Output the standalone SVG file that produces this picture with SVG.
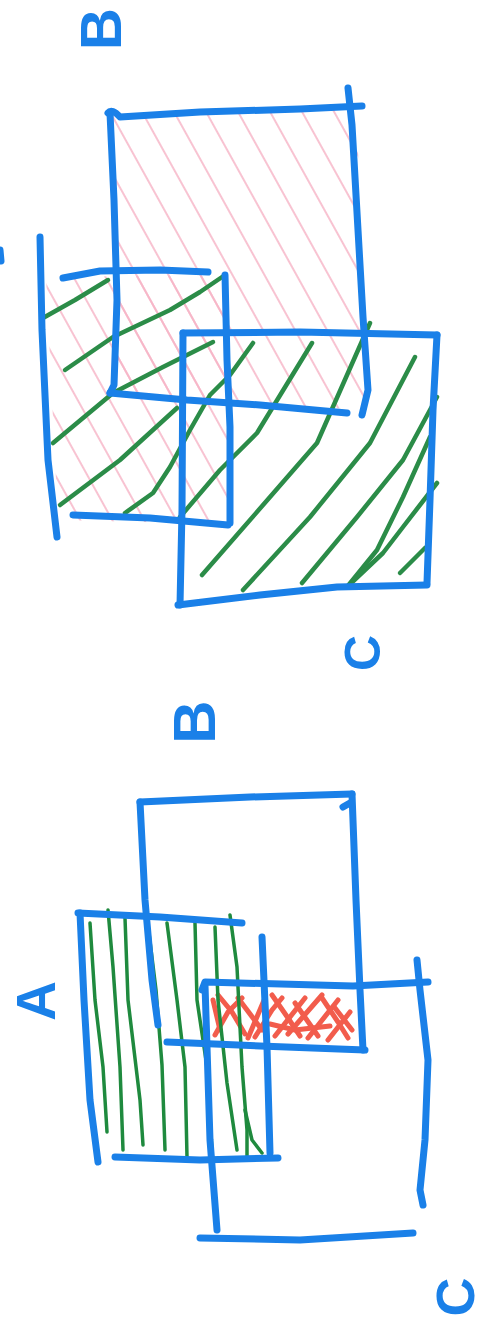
<svg xmlns="http://www.w3.org/2000/svg" width="483" height="1322" viewBox="0 0 483 1322">
<style>
.blue{fill:none;stroke:#1a80e8;stroke-width:7;stroke-linecap:round;stroke-linejoin:round}
.green{fill:none;stroke:#2b8c48;stroke-width:4.5;stroke-linecap:round;stroke-linejoin:round}
.green2{fill:none;stroke:#1f8a3e;stroke-width:3.5;stroke-linecap:round;stroke-linejoin:round}
.red{fill:none;stroke:#f25c4c;stroke-width:5;stroke-linecap:round;stroke-linejoin:round}
.lbl{font-family:"Liberation Sans",Arial,sans-serif;font-weight:bold;fill:#1a80e8;text-anchor:middle;dominant-baseline:central}
</style>
<defs>
<pattern id="pink" patternUnits="userSpaceOnUse" width="28" height="10" patternTransform="rotate(-29)">
<line x1="14" y1="0" x2="14" y2="10" stroke="#f7b4c6" stroke-width="1.6"/>
</pattern>
</defs>
<rect width="483" height="1322" fill="#ffffff"/>

<g id="top-diagram">
<g id="top-pink-hatch">
<path d="M46,277 L226,275 L229,524 L58,520 Z" fill="url(#pink)"/>
<path d="M113,116 L357,109 L365,410 L113,395 Z" fill="url(#pink)"/>
</g>
<g id="top-green-hatch">
<path class="green" d="M43,318 L75,300 L108,280"/>
<path class="green" d="M65,370 L113,337 L170,310 L200,292 L225,275"/>
<path class="green" d="M53,443 L113,393 L163,367 L213,342"/>
<path class="green" d="M60,505 L120,460 L177,408"/>
<path class="green" d="M125,513 L153,493 L170,467 L190,430 L210,395 L230,375 L253,343"/>
<path class="green" d="M180,517 L220,470 L257,433 L312,343"/>
<path class="green" d="M202,575 L270,497 L317,443 L370,323"/>
<path class="green" d="M243,590 L310,517 L370,443 L415,357"/>
<path class="green" d="M302,583 L357,517 L403,460 L437,397"/>
<path class="green" d="M347,587 L377,550 L403,497 L430,437"/>
<path class="green" d="M347,587 L383,553 L403,527 L437,483"/>
<path class="green" d="M400,573 L425,548"/>
</g>
<g id="top-rect-B">
<path class="blue" d="M108,113 Q112,108 120,117 L200,112 L300,109 L362,106"/>
<path class="blue" d="M348,88 L352,125 L358,230 L363,317 L368,390 L362,415"/>
<path class="blue" d="M110,113 L114,200 L117,300 L114,385 L110,393"/>
<path class="blue" d="M110,393 L187,400 L260,405 L347,413"/>
</g>
<g id="top-rect-A">
<path class="blue" d="M40,237 L42,330 L48,460 L57,537"/>
<path class="blue" d="M63,278 L100,271 L160,270 L208,272"/>
<path class="blue" d="M225,275 L227,360 L230,427 L230,523"/>
<path class="blue" d="M73,515 L150,518 L228,525"/>
</g>
<g id="top-rect-C">
<path class="blue" d="M183,333 L300,332 L437,335"/>
<path class="blue" d="M183,333 L182,510 L180,605"/>
<path class="blue" d="M178,605 L260,595 L337,587 L427,585"/>
<path class="blue" d="M437,335 L433,410 L430,500 L427,583"/>
</g>
<path class="blue" d="M0,250 L1,261" stroke-width="5"/>
<text class="lbl" font-size="58" transform="translate(100,29) rotate(-90)">B</text>
<text class="lbl" font-size="50" transform="translate(363,653) rotate(-90)">C</text>
</g>

<g id="bottom-diagram">
<g id="bottom-red-hatch">
<path class="red" d="M213,1000 L220,1030"/>
<path class="red" d="M218,995 L232,1012 L245,1034"/>
<path class="red" d="M215,1035 L228,1012 L242,998"/>
<path class="red" d="M248,1038 L265,998"/>
<path class="red" d="M238,998 L262,1030"/>
<path class="red" d="M255,1037 L272,1010 L282,998"/>
<path class="red" d="M272,995 L288,1018 L300,1036"/>
<path class="red" d="M275,1036 L305,998"/>
<path class="red" d="M288,1034 L322,995"/>
<path class="red" d="M295,1003 L318,1036"/>
<path class="red" d="M308,1038 L338,1000"/>
<path class="red" d="M322,998 L338,1022 L348,1038"/>
<path class="red" d="M335,1008 L352,1030"/>
<path class="red" d="M328,1040 L350,1012"/>
<path class="red" d="M270,1024 L295,1030 L330,1026"/>
</g>
<g id="bottom-green-hatch">
<path class="green2" d="M90,923 L95,1000 L103,1067 L107,1132"/>
<path class="green2" d="M108,910 L113,967 L120,1067 L123,1150"/>
<path class="green2" d="M125,918 L128,1000 L140,1100 L143,1145"/>
<path class="green2" d="M148,925 L156,990 L162,1065 L165,1150"/>
<path class="green2" d="M167,923 L177,1000 L185,1067 L187,1157"/>
<path class="green2" d="M195,923 L197,1000 L207,1067 L213,1167"/>
<path class="green2" d="M215,927 L218,1000 L227,1083 L237,1150"/>
<path class="green2" d="M230,915 L237,967 L242,1067 L247,1130 L247,1160"/>
<path class="green2" d="M245,1110 L252,1140 L262,1153"/>
</g>
<g id="bottom-rect-B">
<path class="blue" d="M140,802 L250,797 L352,794"/>
<path class="blue" d="M140,802 L145,900 L152,980 L158,1025"/>
<path class="blue" d="M352,794 L356,900 L360,990 L363,1050"/>
<path class="blue" d="M343,807 L350,803" stroke-width="4"/>
<path class="blue" d="M167,1042 L260,1046 L365,1050"/>
</g>
<g id="bottom-rect-A">
<path class="blue" d="M78,913 L160,917 L242,923"/>
<path class="blue" d="M80,913 L84,1000 L90,1100 L98,1162"/>
<path class="blue" d="M262,937 L267,1047 L270,1153"/>
<path class="blue" d="M115,1157 L200,1160 L278,1158"/>
</g>
<g id="bottom-rect-C">
<path class="blue" d="M202,990 L205,982 L353,986 L428,982"/>
<path class="blue" d="M417,960 L420,990 L428,1060 L425,1140 L420,1190 L423,1205"/>
<path class="blue" d="M205,985 L210,1140 L217,1230"/>
<path class="blue" d="M200,1238 L300,1240 L413,1233"/>
</g>
<text class="lbl" font-size="60" transform="translate(194,722) rotate(-90)">B</text>
<text class="lbl" font-size="55" transform="translate(36,1001) rotate(-90)">A</text>
<text class="lbl" font-size="54" transform="translate(455,1297) rotate(-90)">C</text>
</g>
</svg>
